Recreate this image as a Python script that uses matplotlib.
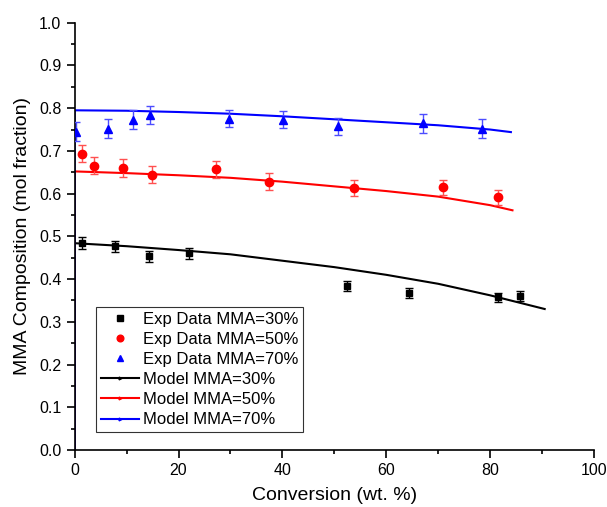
import matplotlib
matplotlib.use('Agg')
import matplotlib.pyplot as plt
from matplotlib.lines import Line2D
from matplotlib.ticker import MultipleLocator, FormatStrFormatter

plt.rcParams['font.family'] = ['Liberation Sans', 'DejaVu Sans']

# experimental data (conversion wt.%, MMA mol fraction, error)
exp30_x = [1.5, 7.7, 14.3, 22.0, 52.5, 64.3, 81.6, 85.8]
exp30_y = [0.484, 0.477, 0.453, 0.460, 0.384, 0.367, 0.357, 0.360]
exp30_err = [0.014, 0.013, 0.012, 0.013, 0.011, 0.011, 0.011, 0.011]

exp50_x = [1.5, 3.8, 9.3, 14.8, 27.2, 37.4, 53.7, 71.0, 81.5]
exp50_y = [0.693, 0.665, 0.660, 0.644, 0.657, 0.628, 0.613, 0.615, 0.591]
exp50_err = [0.02, 0.02, 0.02, 0.02, 0.02, 0.02, 0.018, 0.018, 0.018]

exp70_x = [0.3, 6.5, 11.2, 14.6, 29.8, 40.2, 50.7, 67.0, 78.4]
exp70_y = [0.745, 0.752, 0.773, 0.784, 0.775, 0.773, 0.758, 0.765, 0.752]
exp70_err = [0.022, 0.022, 0.022, 0.022, 0.02, 0.02, 0.02, 0.022, 0.022]

# model curves (first point at origin, as in the original plot)
mod30_x = [0, 0, 10, 20, 30, 40, 50, 60, 70, 80, 90.5]
mod30_y = [0, 0.484, 0.477, 0.468, 0.458, 0.443, 0.428, 0.410, 0.389, 0.362, 0.330]
mod50_x = [0, 0, 10, 20, 30, 40, 50, 60, 70, 80, 84.3]
mod50_y = [0, 0.652, 0.648, 0.643, 0.637, 0.628, 0.617, 0.606, 0.593, 0.573, 0.561]
mod70_x = [0, 0, 10, 20, 30, 40, 50, 60, 70, 80, 84]
mod70_y = [0, 0.795, 0.794, 0.791, 0.787, 0.781, 0.774, 0.767, 0.760, 0.750, 0.744]

fig = plt.figure(figsize=(6.07, 5.07), dpi=100)
ax = fig.add_axes([0.123, 0.1124, 0.8556, 0.8428])

# model lines
ax.plot(mod30_x, mod30_y, color='black', lw=1.5, zorder=2)
ax.plot(mod50_x, mod50_y, color='red', lw=1.5, zorder=2)
ax.plot(mod70_x, mod70_y, color='blue', lw=1.5, zorder=2)

# error bars
ax.errorbar(exp30_x, exp30_y, yerr=exp30_err, fmt='none', ecolor='black',
            elinewidth=1, capsize=3, capthick=1, zorder=3)
ax.errorbar(exp50_x, exp50_y, yerr=exp50_err, fmt='none', ecolor='#ff5050',
            elinewidth=1, capsize=3, capthick=1, zorder=3)
ax.errorbar(exp70_x, exp70_y, yerr=exp70_err, fmt='none', ecolor='#4d4dff',
            elinewidth=1, capsize=3, capthick=1, zorder=3)

# markers
h1, = ax.plot(exp30_x, exp30_y, 's', color='black', ms=5, ls='none', zorder=4,
              label='Exp Data MMA=30%')
h2, = ax.plot(exp50_x, exp50_y, 'o', color='red', ms=6, ls='none', zorder=4,
              label='Exp Data MMA=50%')
h3, = ax.plot(exp70_x, exp70_y, '^', color='blue', ms=6, ls='none', zorder=4,
              label='Exp Data MMA=70%')

h4 = Line2D([], [], color='black', lw=1.5, marker='>', ms=2.5, label='Model MMA=30%')
h5 = Line2D([], [], color='red', lw=1.5, marker='>', ms=2.5, label='Model MMA=50%')
h6 = Line2D([], [], color='blue', lw=1.5, marker='>', ms=2.5, label='Model MMA=70%')

leg = ax.legend(handles=[h1, h2, h3, h4, h5, h6], loc='lower left',
                bbox_to_anchor=(0.041, 0.041), borderaxespad=0, fontsize=12,
                frameon=True, fancybox=False, edgecolor='black',
                labelspacing=0.31, handlelength=2.3, handletextpad=0.2,
                borderpad=0.3, markerscale=0.8)
leg.get_frame().set_linewidth(0.8)

ax.set_xlim(0, 100)
ax.set_ylim(0, 1.0)
ax.xaxis.set_major_locator(MultipleLocator(20))
ax.xaxis.set_minor_locator(MultipleLocator(10))
ax.yaxis.set_major_locator(MultipleLocator(0.1))
ax.yaxis.set_minor_locator(MultipleLocator(0.05))
ax.yaxis.set_major_formatter(FormatStrFormatter('%.1f'))

ax.spines['top'].set_visible(False)
ax.spines['right'].set_visible(False)
for s in ('left', 'bottom'):
    ax.spines[s].set_linewidth(1.2)

ax.tick_params(which='major', direction='out', length=6, width=1.2, labelsize=11.5)
ax.tick_params(which='minor', direction='out', length=3, width=1.2)

ax.set_xlabel('Conversion (wt. %)', fontsize=14, labelpad=6)
ax.set_ylabel('MMA Composition (mol fraction)', fontsize=14, labelpad=6)

fig.savefig('out.png', dpi=100)
